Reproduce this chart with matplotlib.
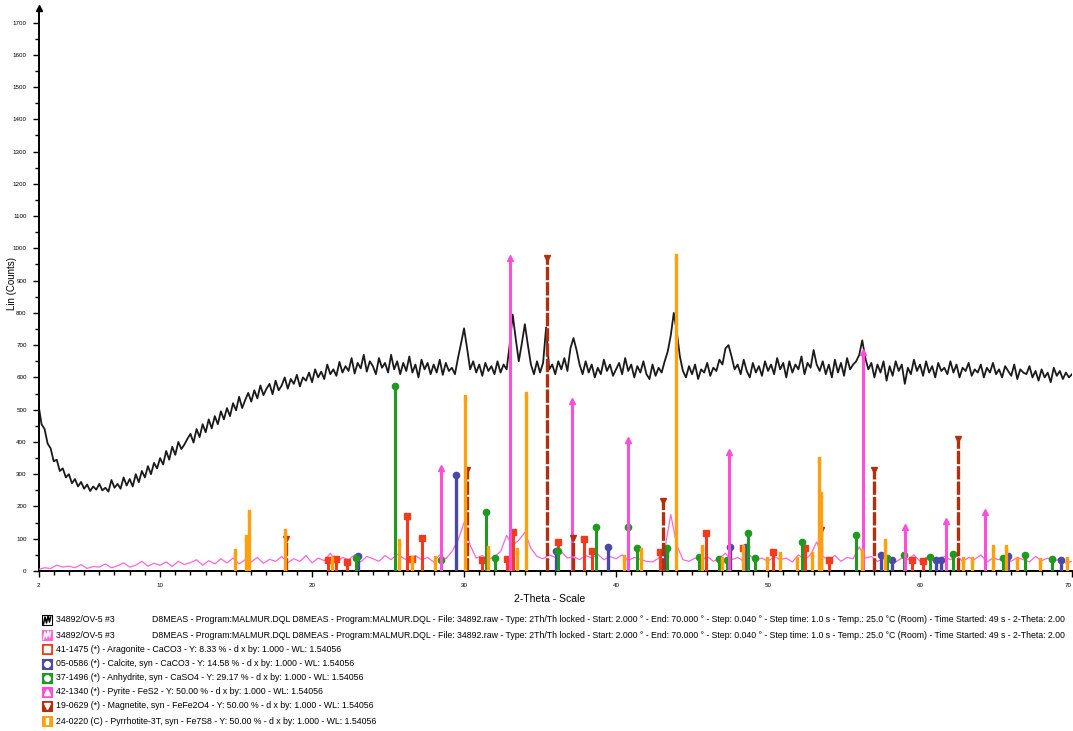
import numpy as np
import matplotlib.pyplot as plt
from matplotlib.patches import Rectangle
from matplotlib.lines import Line2D
from matplotlib.ticker import MultipleLocator, FixedLocator

plt.rcParams['font.family'] = ['Liberation Sans', 'DejaVu Sans']

scan_start = 2.0
scan_step = 0.2
raw_counts = [
    515, 455, 440, 395, 380, 340, 345, 310, 318, 290,
    300, 272, 285, 262, 276, 255, 268, 248, 262, 252,
    270, 250, 258, 246, 282, 258, 270, 255, 290, 265,
    285, 262, 300, 275, 310, 290, 325, 300, 335, 318,
    350, 330, 372, 345, 385, 360, 400, 378, 392, 410,
    425, 398, 440, 415, 455, 430, 470, 442, 480, 455,
    495, 470, 505, 480, 520, 498, 540, 505, 530, 552,
    525, 560, 535, 575, 545, 565, 580, 548, 590, 560,
    575, 600, 565, 595, 580, 608, 572, 600, 590, 615,
    585, 625, 600, 618, 595, 640, 610, 625, 605, 648,
    615, 635, 620, 660, 612, 645, 628, 670, 618, 650,
    635, 610, 660, 630, 645, 615, 670, 625, 650, 610,
    645, 620, 665, 615, 640, 600, 655, 625, 645, 610,
    640, 615, 655, 608, 645, 620, 630, 610, 660, 705,
    752, 690, 625, 650, 615, 640, 605, 645, 620, 635,
    610, 650, 615, 640, 625, 700, 795, 720, 650, 705,
    765, 700, 640, 610, 650, 615, 645, 755, 625, 640,
    610, 650, 625, 660, 620, 690, 722, 685, 640, 610,
    650, 615, 640, 600, 630, 610, 655, 620, 640, 605,
    625, 645, 610, 660, 620, 640, 600, 635, 615, 650,
    610, 595, 640, 605, 630, 615, 650, 680, 730, 800,
    740, 665, 620, 600, 635, 610, 640, 595, 625, 615,
    645, 605, 630, 620, 655, 640, 690, 700, 665, 625,
    640, 610, 655, 620, 600, 645, 615, 635, 605, 650,
    620, 640, 610, 660, 625, 645, 600, 650, 615, 640,
    625, 665, 610, 645, 630, 685, 640, 620, 650, 610,
    640, 600, 655, 615, 645, 605, 660, 625, 640, 650,
    670, 715, 660, 625, 645, 600, 640, 615, 650, 590,
    635, 605, 650, 620, 640, 580, 630, 610, 655, 620,
    640, 605, 650, 615, 635, 600, 645, 620, 630, 610,
    650, 615, 640, 600, 630, 620, 645, 605, 625, 615,
    640, 600, 630, 615, 645, 610, 625, 600, 635, 620,
    605, 640, 595, 625, 615, 610, 635, 600, 620, 590,
    625, 600, 615, 585, 630, 605, 620, 595, 615, 600,
    610,
]

pink_step = 0.4
pink_counts = [
    5, 10, 8, 18, 12, 15, 10, 20, 8, 14,
    12, 22, 10, 16, 25, 12, 18, 30, 15, 24,
    18, 28, 14, 30, 20, 26, 35, 18, 32, 22,
    38, 25, 40, 22, 35, 28, 42, 24, 36, 30,
    45, 26, 38, 30, 48, 25, 40, 32, 55, 28,
    42, 35, 50, 28, 45, 38, 30, 48, 35, 52,
    40, 30, 48, 35, 42, 28, 50, 38, 60, 95,
    150, 80, 40, 48, 35, 45, 60, 110, 80, 95,
    120, 70, 45, 38, 50, 42, 60, 40, 45, 35,
    48, 40, 52, 35, 45, 38, 50, 32, 42, 36,
    30, 28, 40, 65, 175, 80, 35, 30, 40, 32,
    45, 30, 40, 55, 35, 42, 30, 48, 35, 40,
    30, 45, 35, 40, 28, 50, 35, 50, 90, 45,
    35, 48, 30, 42, 38, 75, 40, 45, 30, 38,
    45, 28, 40, 35, 50, 30, 42, 38, 32, 45,
    35, 48, 30, 42, 36, 50, 28, 40, 35, 45,
    30, 42, 35, 28, 45, 32, 40, 30, 38, 25,
    30,
]

# reference patterns (stick positions in 2-theta, heights in counts)
arag_pos = [21.05, 21.6, 22.3, 26.25, 26.55, 27.25, 31.16, 32.8, 33.25, 36.15,
            37.9, 38.45, 42.9, 45.9, 48.35, 50.3, 52.45, 54.03, 59.5, 60.2]
arag_h = [34, 38, 28, 171, 38, 101, 34, 37, 122, 91,
          98, 63, 60, 117, 71, 60, 70, 34, 35, 30]

calc_pos = [23.05, 29.5, 36.05, 39.45, 43.2, 47.5, 48.55, 57.45, 58.17, 61.05,
            61.4, 65.8, 69.25]
calc_h = [47, 298, 63, 75, 60, 75, 75, 50, 34, 35, 33, 48, 35]

anhy_pos = [22.9, 25.45, 28.5, 31.44, 32.03, 36.2, 38.66, 40.8, 41.36, 43.37,
            45.47, 46.8, 47.3, 48.66, 49.14, 52.25, 55.76, 57.8, 58.97, 60.65,
            62.2, 65.43, 66.9, 68.66]
anhy_h = [40, 574, 34, 184, 40, 63, 135, 135, 71, 71,
          43, 38, 33, 117, 40, 89, 112, 40, 50, 42,
          52, 40, 50, 38]

pyr_pos = [28.5, 33.05, 37.1, 40.78, 47.42, 56.28, 59.02, 61.7, 64.3]
pyr_h = [319, 970, 527, 406, 369, 679, 135, 155, 182]

mag_pos = [18.27, 30.2, 35.45, 37.15, 43.07, 53.5, 56.95, 62.52]
mag_h = [100, 313, 970, 101, 218, 127, 313, 409]

pyrr_pos = [14.93, 15.65, 15.85, 18.2, 21.3, 25.74, 26.6, 28.1, 30.08, 31.57,
            33.5, 34.05, 40.5, 41.65, 43.95, 45.63, 46.95, 48.33, 49.95, 50.78,
            51.88, 52.87, 53.35, 53.5, 56.16, 57.7, 62.84, 63.39, 64.78, 65.65,
            66.36, 67.9, 69.64]
pyrr_h = [60, 102, 179, 122, 35, 91, 38, 38, 536, 67,
          62, 546, 40, 62, 973, 71, 34, 71, 33, 50,
          33, 50, 344, 235, 60, 91, 35, 33, 71, 71,
          33, 30, 35]

legend_rows = [
    '34892/OV-5 #3',
    '34892/OV-5 #3',
    '41-1475 (*) - Aragonite - CaCO3 - Y: 8.33 % - d x by: 1.000 - WL: 1.54056',
    '05-0586 (*) - Calcite, syn - CaCO3 - Y: 14.58 % - d x by: 1.000 - WL: 1.54056',
    '37-1496 (*) - Anhydrite, syn - CaSO4 - Y: 29.17 % - d x by: 1.000 - WL: 1.54056',
    '42-1340 (*) - Pyrite - FeS2 - Y: 50.00 % - d x by: 1.000 - WL: 1.54056',
    '19-0629 (*) - Magnetite, syn - FeFe2O4 - Y: 50.00 % - d x by: 1.000 - WL: 1.54056',
    '24-0220 (C) - Pyrrhotite-3T, syn - Fe7S8 - Y: 50.00 % - d x by: 1.000 - WL: 1.54056',
]
scan_info = ('D8MEAS - Program:MALMUR.DQL D8MEAS - Program:MALMUR.DQL - File: 34892.raw - '
             'Type: 2Th/Th locked - Start: 2.000 \u00b0 - End: 70.000 \u00b0 - Step: 0.040 \u00b0 - '
             'Step time: 1.0 s - Temp.: 25.0 \u00b0C (Room) - Time Started: 49 s - 2-Theta: 2.00')

W, H = 1073, 731
fig = plt.figure(figsize=(W / 100, H / 100), dpi=100)
ax = fig.add_axes([38.5 / W, 1 - 571 / H, (1072 - 38.5) / W, (571 - 8) / H])

two_theta = scan_start + scan_step * np.arange(len(raw_counts))
pink_theta = scan_start + pink_step * np.arange(len(pink_counts))

ax.plot(two_theta, raw_counts, color='#1a1a1a', lw=1.3, zorder=2)
ax.plot(pink_theta, pink_counts, color='#ff66d9', lw=0.9, zorder=3)

phases = [
    (arag_pos, arag_h, '#f23b1c', 's', '-', 2.2),
    (calc_pos, calc_h, '#4a48a8', 'o', '-', 2.4),
    (anhy_pos, anhy_h, '#1e9a1e', 'o', '-', 2.2),
    (pyr_pos, pyr_h, '#ff4fd8', '^', '-', 2.2),
    (mag_pos, mag_h, '#b0300f', 'v', (0, (4, 0.6)), 2.4),
    (pyrr_pos, pyrr_h, '#ffa010', r'$\mathbf{I}$', '-', 2.4),
]
for k, (pos, h, col, mk, ls, lw) in enumerate(phases):
    ax.vlines(pos, 0, h, colors=col, linestyles=ls, lw=lw, zorder=4 + k)
    ax.plot(pos, h, ls='none', marker=mk, ms=4.5, color=col, zorder=4 + k)

ax.set_xlim(2, 70)
ax.set_ylim(0, 1745)
for s in ['top', 'right']:
    ax.spines[s].set_visible(False)
ax.spines['left'].set_linewidth(1.4)
ax.spines['bottom'].set_linewidth(1.4)
ax.yaxis.set_major_locator(MultipleLocator(100))
ax.yaxis.set_minor_locator(MultipleLocator(50))
ax.xaxis.set_major_locator(FixedLocator([2, 10, 20, 30, 40, 50, 60, 70]))
ax.xaxis.set_minor_locator(MultipleLocator(1))
ax.tick_params(axis='both', which='major', length=4.5, width=1, labelsize=4.5, pad=4)
ax.tick_params(axis='both', which='minor', length=3, width=1)
ax.set_xticklabels(['2', '10', '20', '30', '40', '50', '60', '70'])
ax.get_xticklabels()[-1].set_ha('right')
ax.plot([2], [1745], marker='^', ms=4, color='black', clip_on=False, zorder=10)

fig.text(12 / W, 1 - 283 / H, 'Lin (Counts)', rotation=90, ha='center', va='center',
         fontsize=7)
fig.text(550 / W, 1 - 599 / H, '2-Theta - Scale', ha='center', va='center', fontsize=7.5)

row_y = [620, 635, 649, 664, 678, 692, 706, 721]
icon_cols = ['white', '#ff66d9', '#f23b1c', '#4a48a8', '#1e9a1e', '#ff4fd8', '#b0300f', '#ffa010']
icon_marks = [None, None, 's', 'o', 'o', '^', 'v', r'$\mathbf{I}$']
for i, (yy, txt) in enumerate(zip(row_y, legend_rows)):
    edge = 'black' if i == 0 else icon_cols[i]
    fig.add_artist(Rectangle((42 / W, 1 - (yy + 5) / H), 10 / W, 10 / H,
                             transform=fig.transFigure, facecolor=icon_cols[i],
                             edgecolor=edge, lw=0.8))
    if icon_marks[i] is None:
        # little scan-curve glyph in the icon
        zig_col = 'black' if i == 0 else 'white'
        zx = np.array([43.5, 45, 46.5, 48, 49.5, 50.5]) / W
        zy = 1 - (np.array([4, -3, 3, -4, 2, -3]) + yy) / H
        fig.add_artist(Line2D(zx, zy, color=zig_col, lw=1.1, transform=fig.transFigure))
    else:
        fig.add_artist(Line2D([47 / W], [1 - yy / H], marker=icon_marks[i], ms=4,
                              color='white', transform=fig.transFigure))
    fig.text(56 / W, 1 - yy / H, txt, ha='left', va='center', fontsize=6.3)
    if i < 2:
        fig.text(152 / W, 1 - yy / H, scan_info, ha='left', va='center', fontsize=6.3)

fig.savefig('out.png', dpi=100)
